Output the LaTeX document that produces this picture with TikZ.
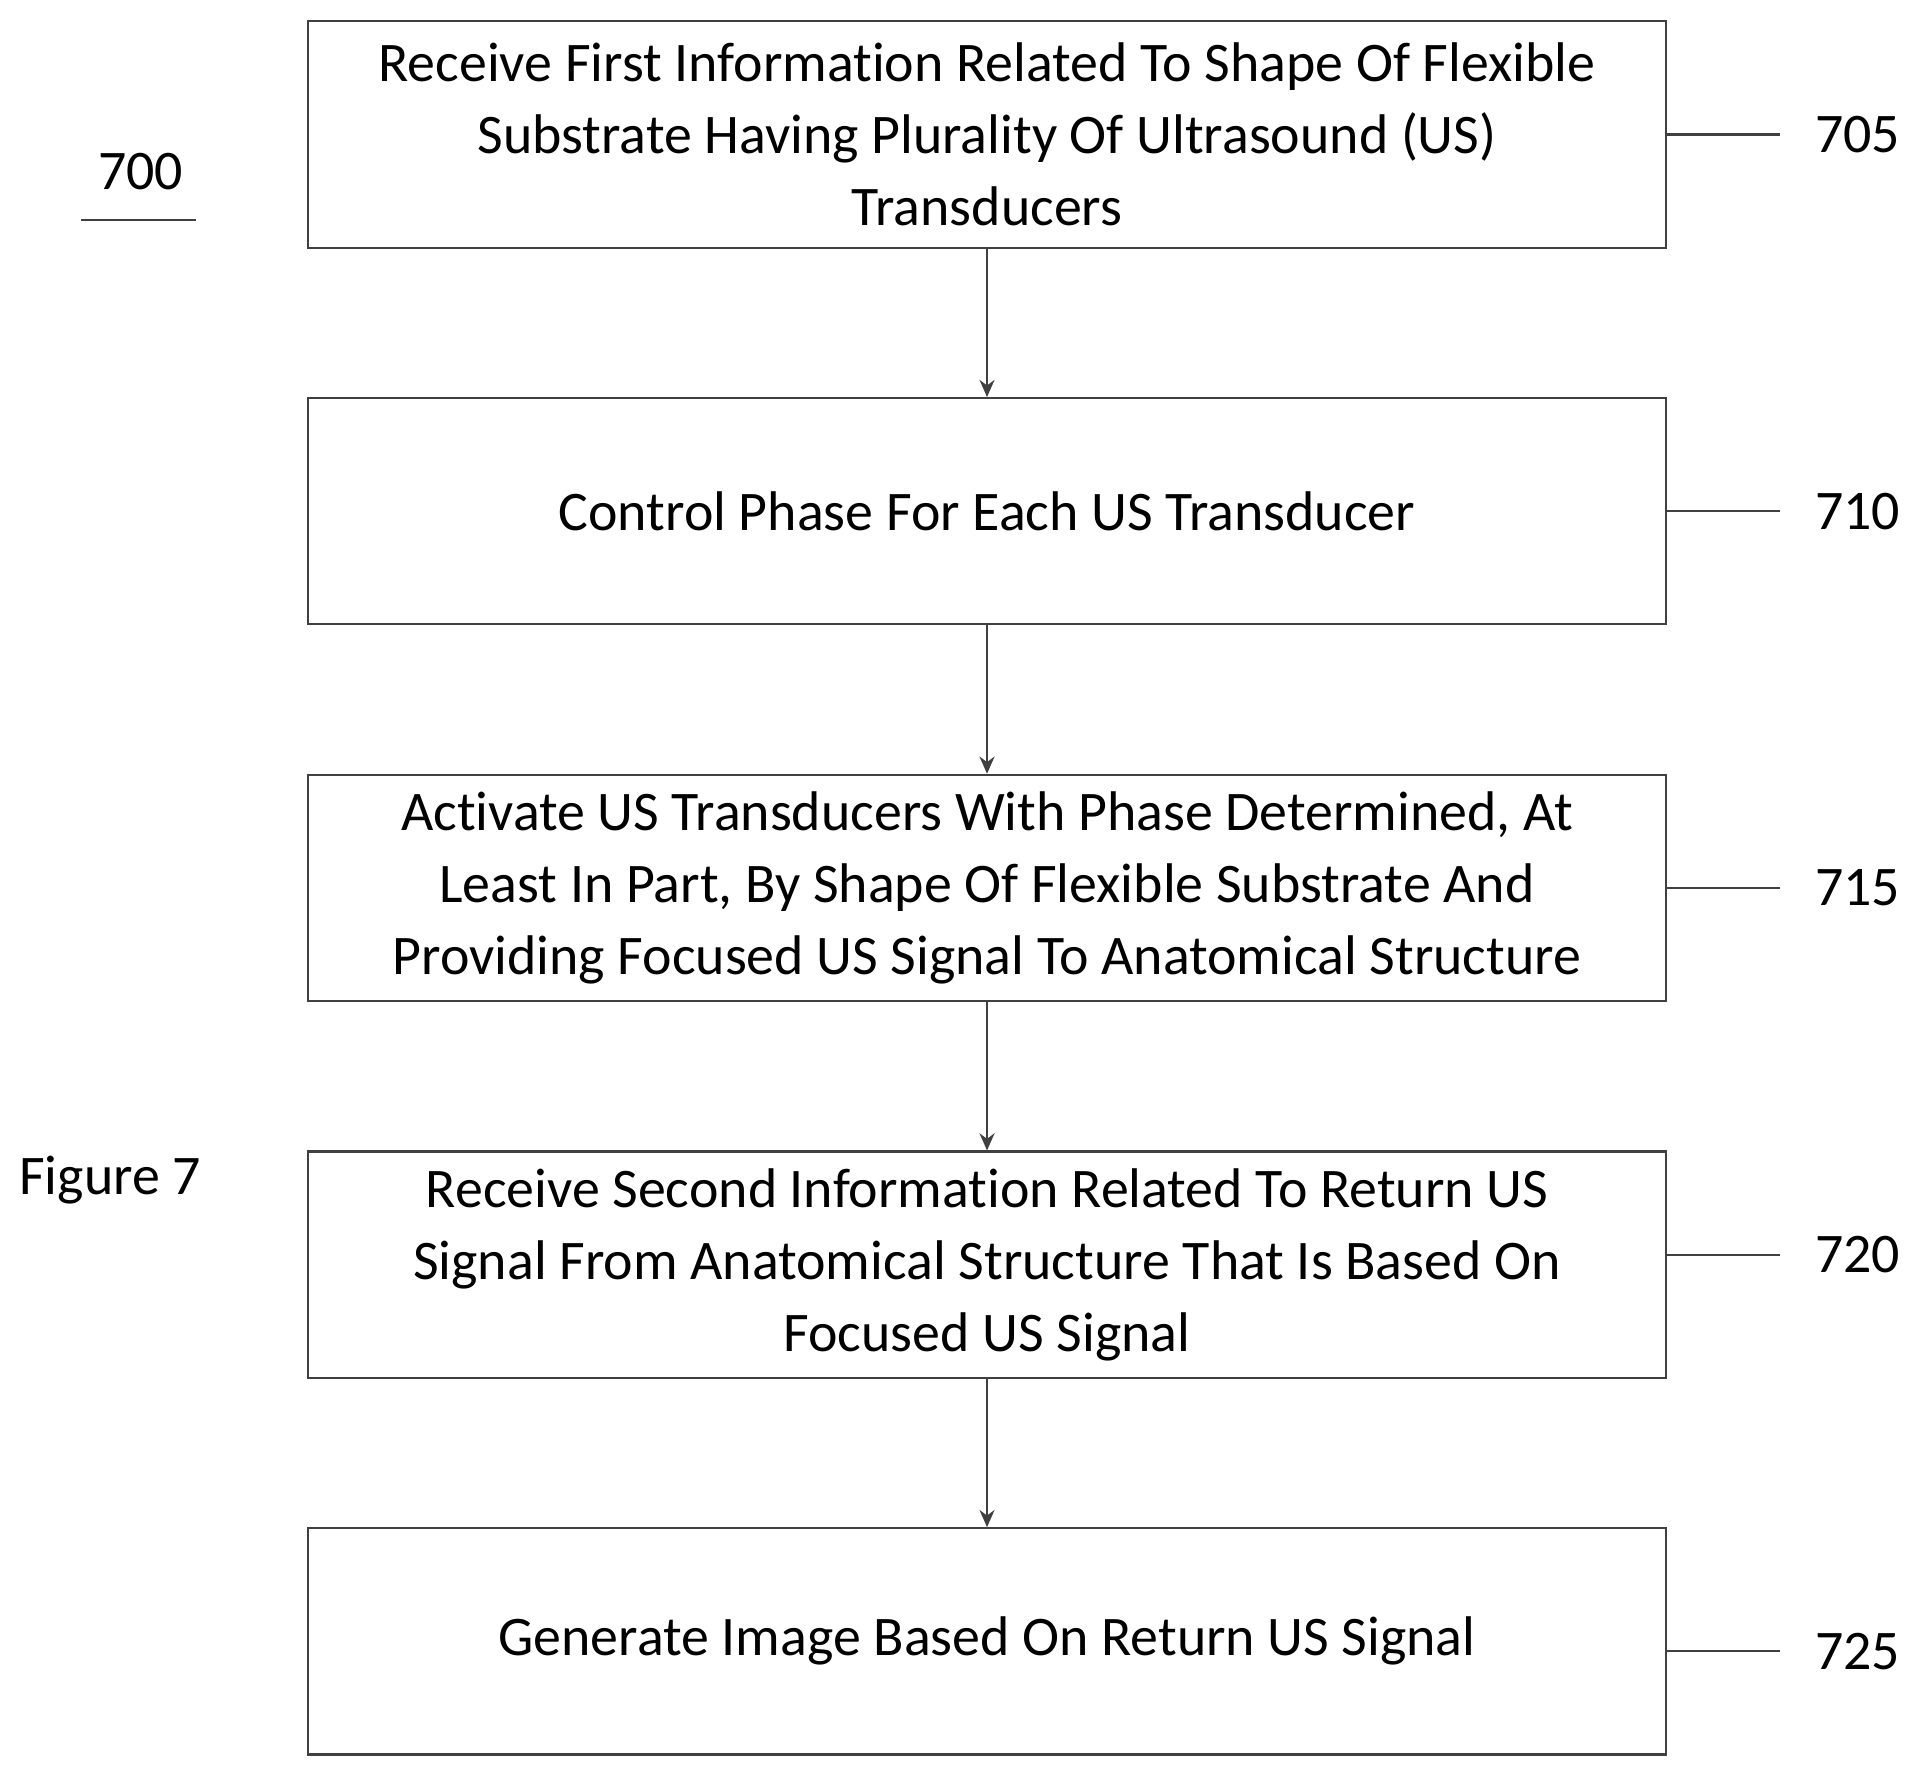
\documentclass[tikz,border=0pt]{standalone}
\usepackage{fontspec}
\setmainfont[Ligatures={NoCommon}]{Carlito}
\usetikzlibrary{arrows.meta}
\begin{document}
\begin{tikzpicture}[x=0.02cm,y=-0.02cm,
  box/.style={draw=black!75,line width=1pt,minimum width=1110*0.02cm,minimum height=185*0.02cm,align=center,font=\fontsize{26}{33.5}\selectfont,inner sep=0pt},
  lbl/.style={font=\fontsize{26}{32}\selectfont,anchor=west},
  arr/.style={draw=black!75,line width=1pt,-{Stealth[length=8pt,width=7pt]}},
  lead/.style={draw=black!75,line width=1pt}]
\useasboundingbox (0,0) rectangle (1560,1445);
\node[box] (b1) at (807,110) {Receive First Information Related To Shape Of Flexible\\Substrate Having Plurality Of Ultrasound (US)\\Transducers};
\node[box] (b2) at (807,418) {Control Phase For Each US Transducer};
\node[box] (b3) at (807,726) {Activate US Transducers With Phase Determined, At\\Least In Part, By Shape Of Flexible Substrate And\\Providing Focused US Signal To Anatomical Structure};
\node[box] (b4) at (807,1034) {Receive Second Information Related To Return US\\Signal From Anatomical Structure That Is Based On\\Focused US Signal};
\node[box] (b5) at (807,1342) {Generate Image Based On Return US Signal};
\foreach \a/\b in {b1/b2,b2/b3,b3/b4,b4/b5} \draw[arr] (\a) -- (\b);
\foreach \n/\t/\y in {b1/705/110,b2/710/418,b3/715/726,b4/720/1026,b5/725/1350}{
  \coordinate (e\t) at (1455,\y);
  \node[lbl] (l\t) at (1478,\y) {\t};
  \draw[lead] (\n.east |- e\t) -- (e\t);
}
\node[font=\fontsize{26}{32}\selectfont] (n700) at (115,140) {700};
\coordinate (u1) at (66,180); \coordinate (u2) at (160,180);
\draw[lead] (u1) -- (u2);
\node[font=\fontsize{26}{32}\selectfont] (fig) at (90,965) {Figure 7};
\end{tikzpicture}
\end{document}
